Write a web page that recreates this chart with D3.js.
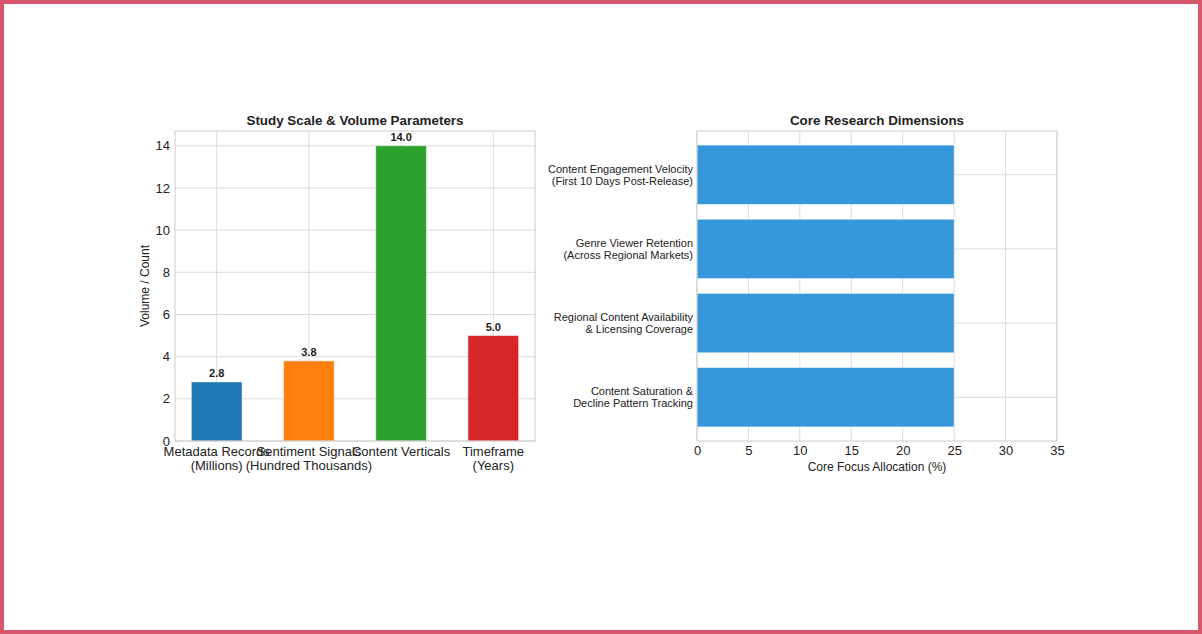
<!DOCTYPE html>
<html>
<head>
<meta charset="utf-8">
<script src="https://cdn.jsdelivr.net/npm/d3@7"></script>
<style>
  html, body { margin: 0; padding: 0; background: #fff; }
  #frame {
    width: 1202px; height: 634px; box-sizing: border-box;
    border: 4px solid #d8566c; background: #fff;
  }
  svg { display: block; font-family: "Liberation Sans", Arial, sans-serif; }
</style>
</head>
<body>
<div id="frame"><svg id="chart" width="1194" height="626"></svg></div>
<script>
// ── Data ─────────────────────────────────────────────
const scaleLabels = [
  ['Metadata Records', '(Millions)'],
  ['Sentiment Signals', '(Hundred Thousands)'],
  ['Content Verticals'],
  ['Timeframe', '(Years)']
];
const scaleValues = [2.8, 3.8, 14.0, 5.0];
const scaleColors = ['#1f77b4', '#ff7f0e', '#2ca02c', '#d62728'];
const scaleTicks  = [0, 2, 4, 6, 8, 10, 12, 14];

const dimLabels = [
  ['Content Engagement Velocity', '(First 10 Days Post-Release)'],
  ['Genre Viewer Retention', '(Across Regional Markets)'],
  ['Regional Content Availability', '& Licensing Coverage'],
  ['Content Saturation &', 'Decline Pattern Tracking']
];
const dimValues = [25, 25, 25, 25];
const dimTicks  = [0, 5, 10, 15, 20, 25, 30, 35];

// ── Shared style ─────────────────────────────────────
const OFF = 4; // frame border
const GRID = '#dcdcdc', SPINE = '#cccccc', TXT = '#222';

const svg = d3.select('#chart');

function frame(g, iW, iH) {
  g.append('rect')
    .attr('x', 0).attr('y', 0).attr('width', iW).attr('height', iH)
    .attr('fill', 'none').attr('stroke', SPINE).attr('stroke-width', 1);
}

// ── Left: vertical bars ──────────────────────────────
(function () {
  const m = { left: 175 - OFF, top: 131 - OFF };
  const iW = 360, iH = 310;
  const g = svg.append('g').attr('transform', `translate(${m.left},${m.top})`);

  const idx = scaleValues.map((d, i) => i);
  const x = d3.scaleLinear().domain([-0.4525, 3.4525]).range([0, iW]);
  const y = d3.scaleLinear().domain([0, 14.7]).range([iH, 0]);
  const bw = 0.55;

  // grid
  g.append('g').selectAll('line').data(scaleTicks).join('line')
    .attr('x1', 0).attr('x2', iW)
    .attr('y1', d => y(d)).attr('y2', d => y(d))
    .attr('stroke', GRID);
  g.append('g').selectAll('line').data(idx).join('line')
    .attr('x1', d => x(d)).attr('x2', d => x(d))
    .attr('y1', 0).attr('y2', iH)
    .attr('stroke', GRID);

  // bars
  g.selectAll('.bar').data(scaleValues).join('rect')
    .attr('class', 'bar')
    .attr('x', (d, i) => x(i - bw / 2))
    .attr('width', x(bw) - x(0))
    .attr('y', d => y(d))
    .attr('height', d => y(0) - y(d))
    .attr('fill', (d, i) => scaleColors[i])
    .attr('stroke', 'rgba(255,255,255,0.5)').attr('stroke-width', 1);

  // value labels
  g.selectAll('.val').data(scaleValues).join('text')
    .attr('x', (d, i) => x(i))
    .attr('y', d => y(d) - 5)
    .attr('text-anchor', 'middle')
    .attr('font-size', 11).attr('font-weight', 'bold').attr('fill', TXT)
    .text(d => d.toFixed(1));

  frame(g, iW, iH);

  // y axis
  const ya = g.append('g')
    .call(d3.axisLeft(y).tickValues(scaleTicks).tickSize(0).tickPadding(5));
  ya.select('.domain').remove();
  ya.selectAll('text').attr('font-size', 13).attr('fill', TXT)
    .attr('font-family', '"Liberation Sans", Arial, sans-serif');

  // x tick labels (multi-line, overlapping as in the source)
  const xl = g.append('g').selectAll('text').data(scaleLabels).join('text')
    .attr('text-anchor', 'middle')
    .attr('font-size', 13).attr('fill', TXT)
    .attr('x', (d, i) => x(i))
    .attr('y', iH + 15);
  xl.selectAll('tspan').data(d => d).join('tspan')
    .attr('x', function () { return d3.select(this.parentNode).attr('x'); })
    .attr('dy', (d, i) => i === 0 ? 0 : 14)
    .text(d => d);

  g.append('text')
    .attr('transform', 'rotate(-90)')
    .attr('x', -iH / 2).attr('y', -26)
    .attr('text-anchor', 'middle')
    .attr('font-size', 12).attr('fill', TXT)
    .text('Volume / Count');

  g.append('text')
    .attr('x', iW / 2).attr('y', -6)
    .attr('text-anchor', 'middle')
    .attr('font-size', 13.4).attr('font-weight', 'bold').attr('fill', TXT)
    .text('Study Scale & Volume Parameters');
})();

// ── Right: horizontal bars ───────────────────────────
(function () {
  const m = { left: 697 - OFF, top: 131 - OFF };
  const iW = 360, iH = 310;
  const g = svg.append('g').attr('transform', `translate(${m.left},${m.top})`);

  const idx = dimValues.map((d, i) => i);
  const x = d3.scaleLinear().domain([0, 35]).range([0, iW]);
  const y = d3.scaleLinear().domain([-0.59, 3.59]).range([0, iH]);
  const bh = 0.8;

  g.append('g').selectAll('line').data(dimTicks).join('line')
    .attr('x1', d => x(d)).attr('x2', d => x(d))
    .attr('y1', 0).attr('y2', iH)
    .attr('stroke', GRID);
  g.append('g').selectAll('line').data(idx).join('line')
    .attr('x1', 0).attr('x2', iW)
    .attr('y1', d => y(d)).attr('y2', d => y(d))
    .attr('stroke', GRID);

  g.selectAll('.bar').data(dimValues).join('rect')
    .attr('class', 'bar')
    .attr('x', x(0))
    .attr('width', d => x(d) - x(0))
    .attr('y', (d, i) => y(i - bh / 2))
    .attr('height', y(bh) - y(0))
    .attr('fill', '#3498db')
    .attr('stroke', 'rgba(255,255,255,0.5)').attr('stroke-width', 1);

  frame(g, iW, iH);

  const xa = g.append('g').attr('transform', `translate(0,${iH})`)
    .call(d3.axisBottom(x).tickValues(dimTicks).tickSize(0).tickPadding(5));
  xa.select('.domain').remove();
  xa.selectAll('text').attr('font-size', 13).attr('fill', TXT)
    .attr('font-family', '"Liberation Sans", Arial, sans-serif');

  const yl = g.append('g').selectAll('text').data(dimLabels).join('text')
    .attr('text-anchor', 'end')
    .attr('font-size', 11).attr('fill', TXT)
    .attr('x', -4)
    .attr('y', (d, i) => y(i) - 2);
  yl.selectAll('tspan').data(d => d).join('tspan')
    .attr('x', -4)
    .attr('dy', (d, i) => i === 0 ? 0 : 12)
    .text(d => d);

  g.append('text')
    .attr('x', iW / 2).attr('y', iH + 30)
    .attr('text-anchor', 'middle')
    .attr('font-size', 12).attr('fill', TXT)
    .text('Core Focus Allocation (%)');

  g.append('text')
    .attr('x', iW / 2).attr('y', -6)
    .attr('text-anchor', 'middle')
    .attr('font-size', 13.4).attr('font-weight', 'bold').attr('fill', TXT)
    .text('Core Research Dimensions');
})();
</script>
</body>
</html>
